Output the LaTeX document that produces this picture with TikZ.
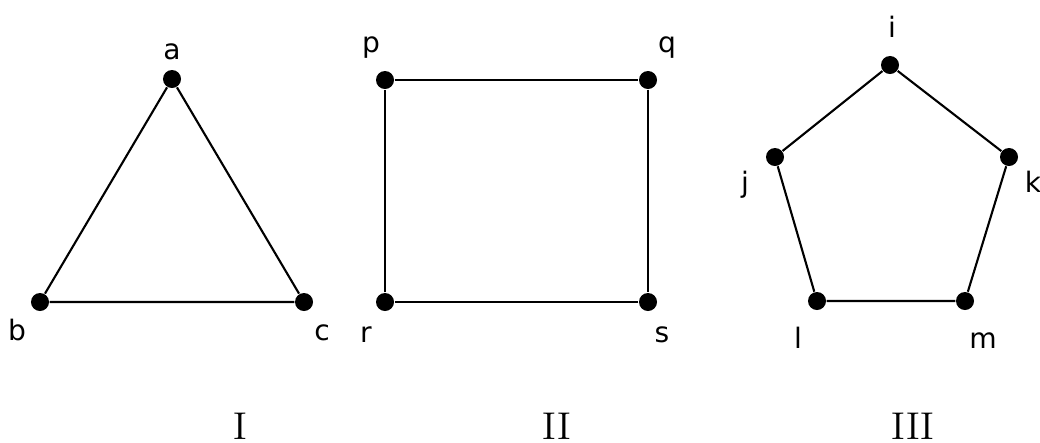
\documentclass[tikz,border=0pt]{standalone}
\usepackage{fontspec}
\newfontfamily\lblfont{DejaVu Sans}
\usepackage{tikz}
\usetikzlibrary{positioning}

\begin{document}
\begin{tikzpicture}[
  x=0.01cm, y=-0.01cm,
  % graph vertex
  vtx/.style={circle, fill=black, inner sep=0pt, minimum size=0.18cm},
  % vertex letter
  vlbl/.style={font=\lblfont\fontsize{8}{10}\selectfont, anchor=base, inner sep=0pt},
  % graph number below
  glbl/.style={font=\fontsize{11}{13}\selectfont, anchor=base, inner sep=0pt},
  edge/.style={line width=0.6pt},
]
\useasboundingbox (0,0) rectangle (1040,442);

%% ── Graph I: triangle ─────────────────────────────────────────────────────
\node[vtx] (a) at (172,79)  {};
\node[vtx] (b) at (40,302)  {};
\node[vtx] (c) at (304,302) {};
\draw[edge] (a) -- (b) -- (c) -- (a);
\node[vlbl] (la) at (172,59)  {a};
\node[vlbl] (lb) at (17,340)  {b};
\node[vlbl] (lc) at (322,340) {c};

%% ── Graph II: rectangle ───────────────────────────────────────────────────
\node[vtx] (p) at (385,80)  {};
\node[vtx] (q) at (648,80)  {};
\node[vtx] (r) at (385,302) {};
\node[vtx] (s) at (648,302) {};
\draw[edge] (p) -- (q) -- (s) -- (r) -- (p);
\node[vlbl] (lp) at (371,52)  {p};
\node[vlbl] (lq) at (667,52)  {q};
\node[vlbl] (lr) at (366,342) {r};
\node[vlbl] (ls) at (662,342) {s};

%% ── Graph III: pentagon ───────────────────────────────────────────────────
\node[vtx] (i) at (890,65)  {};
\node[vtx] (j) at (775,157) {};
\node[vtx] (k) at (1009,157) {};
\node[vtx] (l) at (817,301) {};
\node[vtx] (m) at (965,301) {};
\draw[edge] (i) -- (k) -- (m) -- (l) -- (j) -- (i);
\node[vlbl] (li) at (892,37)  {i};
\node[vlbl] (lj) at (745,192) {j};
\node[vlbl] (lk) at (1033,192) {k};
\node[vlbl] (ll) at (798,348) {l};
\node[vlbl] (lm) at (983,348) {m};

%% ── Graph numbers ─────────────────────────────────────────────────────────
\node[glbl] (gI)   at (240,439) {I};
\node[glbl] (gII)  at (557,439) {II};
\node[glbl] (gIII) at (913,439) {III};

\end{tikzpicture}
\end{document}
